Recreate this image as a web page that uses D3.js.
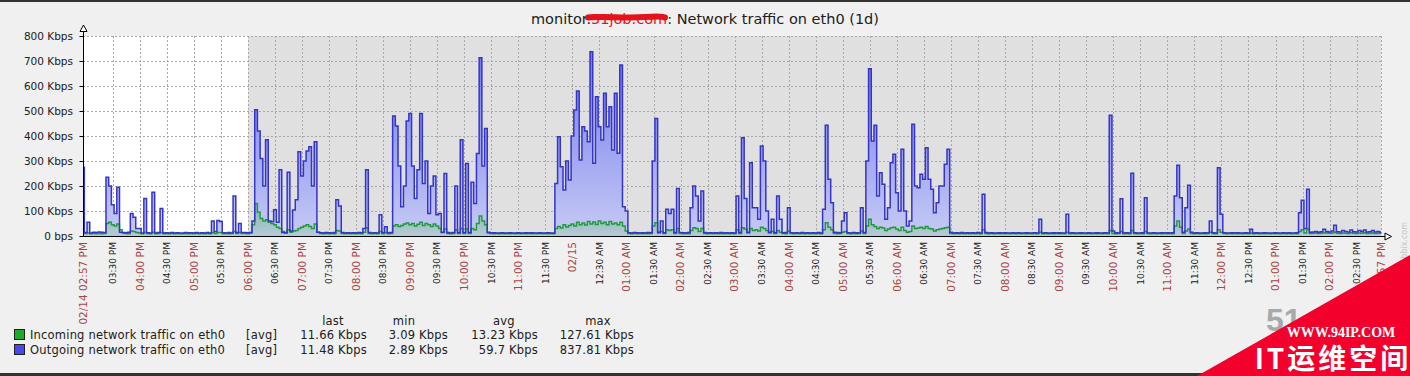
<!DOCTYPE html>
<html>
<head>
<meta charset="utf-8">
<script src="https://cdn.jsdelivr.net/npm/d3@7"></script>
<style>
  html, body { margin: 0; padding: 0; background: #f0f0f0; }
  svg { display: block; font-family: "DejaVu Sans", sans-serif; }
</style>
</head>
<body>
<div id="chart"></div>
<script>
// one sample every 3 minutes, 02/14 02:57 PM -> 02/15 02:57 PM (one row = one hour)
const outgoing = [
  275,14,55,12,15,14,16,15,14,235,200,125,90,195,15,14,13,15,90,75,
  30,30,12,150,13,12,175,12,14,110,12,13,12,14,12,13,12,12,14,13,
  13,12,14,12,13,12,14,12,60,18,62,58,13,12,14,12,160,14,50,14,
  14,13,14,60,505,420,310,200,385,60,58,105,55,265,14,12,255,20,104,145,
  337,240,300,340,357,200,377,15,13,12,14,13,12,14,145,120,14,12,13,12,
  13,12,14,13,30,265,14,12,13,12,85,14,37,13,14,480,440,280,117,200,
  460,490,280,150,265,490,210,300,90,200,240,85,90,14,250,14,12,14,200,13,
  385,14,290,14,215,130,330,713,280,430,15,12,13,12,12,13,12,12,13,12,
  12,13,12,12,13,12,13,12,12,13,12,12,13,12,12,210,397,277,184,300,
  224,400,504,580,304,437,420,377,737,291,557,437,384,571,437,517,344,571,331,684,
  117,100,13,12,14,13,12,13,12,14,13,300,470,15,60,13,107,90,107,14,
  190,14,13,12,14,113,200,160,60,180,14,12,13,12,13,12,14,12,13,12,
  13,12,160,14,393,150,15,293,113,113,67,360,300,100,15,67,13,160,67,13,
  14,113,13,12,13,12,14,12,13,12,13,12,14,12,107,443,227,133,15,14,
  13,60,93,13,12,14,13,12,113,14,300,669,380,443,160,253,207,67,113,293,
  327,173,100,347,100,40,60,447,200,193,247,227,353,227,187,93,133,200,200,287,
  347,15,12,13,12,14,12,13,12,13,12,14,12,167,14,12,13,12,12,13,
  12,13,12,12,13,12,13,12,12,13,12,12,13,12,67,12,13,12,12,13,
  12,13,12,12,87,12,13,12,12,13,12,12,13,12,12,13,12,12,13,12,
  483,20,13,12,149,12,13,12,251,13,12,12,13,153,12,12,13,12,12,13,
  12,13,12,13,160,283,153,15,113,203,15,12,13,12,12,13,12,60,13,12,
  273,87,13,12,12,13,12,13,12,12,13,12,27,12,13,12,12,13,12,12,
  12,13,12,12,13,12,13,12,12,13,93,143,30,187,15,16,18,15,17,27,
  18,16,20,43,17,16,22,18,16,24,17,16,22,18,24,16,17,22,16,18,15
];

const incoming = [
  12,10,12,9,10,9,10,9,10,50,55,45,40,48,25,12,10,9,20,18,
  14,12,9,15,10,9,15,9,10,14,9,10,9,10,9,10,9,9,10,9,
  10,9,10,9,10,9,10,9,14,10,14,14,9,10,9,10,18,10,14,10,
  10,9,12,45,130,95,70,60,65,55,50,45,35,30,18,14,25,15,20,22,
  30,35,40,45,38,30,48,15,10,9,10,9,10,9,22,20,10,9,10,9,
  10,9,10,9,15,33,10,9,10,9,18,9,14,9,10,40,45,38,42,48,
  52,45,50,40,47,55,42,50,45,38,48,40,30,15,28,10,9,10,25,10,
  30,10,28,10,30,25,50,80,60,45,12,10,9,10,9,10,9,10,9,10,
  9,10,9,10,9,10,9,10,9,10,9,10,9,10,9,30,38,32,45,36,
  42,48,40,55,45,52,44,58,48,56,46,60,50,55,45,58,48,52,45,55,
  40,20,10,9,10,9,10,9,10,9,10,40,53,12,18,10,25,22,25,10,
  30,10,9,10,9,22,33,30,18,30,10,9,10,9,10,9,10,9,10,9,
  10,9,25,10,33,28,12,30,22,25,20,35,30,22,12,18,10,22,15,10,
  9,20,10,9,10,9,10,9,10,9,10,9,10,9,25,53,35,25,10,9,
  10,15,18,10,9,10,9,10,20,10,40,67,45,38,30,35,32,22,28,33,
  35,28,22,35,22,15,18,40,30,32,35,30,38,30,28,20,25,28,30,33,
  35,10,9,10,9,10,9,10,9,10,9,10,9,25,10,9,10,9,10,9,
  10,9,10,9,10,9,10,9,10,9,10,9,10,9,15,9,10,9,10,9,
  10,9,10,9,15,9,10,9,10,9,10,9,10,9,10,9,10,9,10,9,
  22,10,9,10,18,9,10,9,22,10,9,10,9,18,10,9,10,9,10,9,
  10,9,10,9,40,60,35,10,20,28,10,9,10,9,10,9,10,15,10,9,
  25,15,10,9,10,9,10,9,10,9,10,9,12,9,10,9,10,9,10,9,
  10,9,10,9,10,9,10,9,10,9,18,25,12,28,10,11,12,10,11,13,
  12,11,12,15,11,10,12,11,10,13,11,10,12,11,13,10,11,12,10,11,12
];

const yTicks = [0, 100, 200, 300, 400, 500, 600, 700, 800];
const yLabels = ["0 bps", "100 Kbps", "200 Kbps", "300 Kbps", "400 Kbps",
  "500 Kbps", "600 Kbps", "700 Kbps", "800 Kbps"];

const timeLabels = [
  "03:30 PM", "04:00 PM", "04:30 PM", "05:00 PM", "05:30 PM", "06:00 PM",
  "06:30 PM", "07:00 PM", "07:30 PM", "08:00 PM", "08:30 PM", "09:00 PM",
  "09:30 PM", "10:00 PM", "10:30 PM", "11:00 PM", "11:30 PM", "02/15",
  "12:30 AM", "01:00 AM", "01:30 AM", "02:00 AM", "02:30 AM", "03:00 AM",
  "03:30 AM", "04:00 AM", "04:30 AM", "05:00 AM", "05:30 AM", "06:00 AM",
  "06:30 AM", "07:00 AM", "07:30 AM", "08:00 AM", "08:30 AM", "09:00 AM",
  "09:30 AM", "10:00 AM", "10:30 AM", "11:00 AM", "11:30 AM", "12:00 PM",
  "12:30 PM", "01:00 PM", "01:30 PM", "02:00 PM", "02:30 PM"
];
const startLabel = "02/14 02:57 PM";
const endLabel = "02/15 02:57 PM";

const legendNames = ["Incoming network traffic on eth0", "Outgoing network traffic on eth0"];
const legendColors = ["#1faa2a", "#4848ec"];
const legendLast = ["11.66 Kbps", "11.48 Kbps"];
const legendMin = ["3.09 Kbps", "2.89 Kbps"];
const legendAvg = ["13.23 Kbps", "59.7 Kbps"];
const legendMax = ["127.61 Kbps", "837.81 Kbps"];

const start = new Date(2014, 1, 14, 14, 57);
const end = new Date(2014, 1, 15, 14, 57);
const workEnd = new Date(2014, 1, 14, 18, 0);
const stepMinutes = 3;

const width = 1410;
const height = 376;
const margin = { top: 36, right: 29, bottom: 140, left: 83 };
const innerWidth = width - margin.left - margin.right;
const innerHeight = height - margin.top - margin.bottom;

const svg = d3.select("#chart")
  .append("svg")
  .attr("width", width)
  .attr("height", height);

svg.append("rect").attr("width", width).attr("height", height).attr("fill", "#f0f0f0");
svg.append("rect").attr("width", width).attr("height", 2).attr("fill", "#333");
svg.append("rect").attr("y", height - 3).attr("width", width).attr("height", 3).attr("fill", "#333");

const x = d3.scaleTime()
  .domain([start, end])
  .range([margin.left, margin.left + innerWidth]);

const y = d3.scaleLinear()
  .domain([0, 800])
  .range([margin.top + innerHeight, margin.top]);

const sampleTime = (i) => d3.timeMinute.offset(start, i * stepMinutes);

// plot background: work period white, the rest grey
svg.append("rect")
  .attr("x", x(start)).attr("y", y(800))
  .attr("width", x(workEnd) - x(start)).attr("height", y(0) - y(800))
  .attr("fill", "#ffffff");
svg.append("rect")
  .attr("x", x(workEnd)).attr("y", y(800))
  .attr("width", x(end) - x(workEnd)).attr("height", y(0) - y(800))
  .attr("fill", "#e0e0e0");

// grid
const tickTimes = d3.timeMinute.every(30).range(new Date(2014, 1, 14, 15, 15), end);

const grid = svg.append("g")
  .attr("stroke", "#a8a8a8")
  .attr("stroke-width", 1)
  .attr("stroke-dasharray", "2,2");

grid.selectAll(".hgrid")
  .data(yTicks.slice(1))
  .join("line")
  .attr("x1", x(start)).attr("x2", x(end))
  .attr("y1", (d) => Math.round(y(d)) + 0.5)
  .attr("y2", (d) => Math.round(y(d)) + 0.5);

grid.selectAll(".vgrid")
  .data(tickTimes.concat([end]))
  .join("line")
  .attr("x1", (d) => Math.round(x(d)) + 0.5)
  .attr("x2", (d) => Math.round(x(d)) + 0.5)
  .attr("y1", y(800)).attr("y2", y(0));

// gradients (zabbix "gradient line" style)
const defs = svg.append("defs");
const gBlue = defs.append("linearGradient")
  .attr("id", "fillOut")
  .attr("gradientUnits", "userSpaceOnUse")
  .attr("x1", 0).attr("x2", 0)
  .attr("y1", y(800)).attr("y2", y(0));
gBlue.append("stop").attr("offset", "0%").attr("stop-color", "#6a72ee");
gBlue.append("stop").attr("offset", "100%").attr("stop-color", "#c6caf4");

const gGreen = defs.append("linearGradient")
  .attr("id", "fillIn")
  .attr("gradientUnits", "userSpaceOnUse")
  .attr("x1", 0).attr("x2", 0)
  .attr("y1", y(150)).attr("y2", y(0));
gGreen.append("stop").attr("offset", "0%").attr("stop-color", "#4aae68").attr("stop-opacity", 0.6);
gGreen.append("stop").attr("offset", "100%").attr("stop-color", "#9cc8a8").attr("stop-opacity", 0.4);

const area = d3.area()
  .x((d, i) => x(sampleTime(i)))
  .y0(y(0))
  .y1((d) => y(d))
  .curve(d3.curveStep);

const line = d3.line()
  .x((d, i) => x(sampleTime(i)))
  .y((d) => y(d))
  .curve(d3.curveStep);

svg.append("path").datum(outgoing).attr("fill", "url(#fillOut)").attr("d", area);
svg.append("path").datum(incoming).attr("fill", "url(#fillIn)").attr("d", area);
svg.append("path").datum(incoming)
  .attr("fill", "none").attr("stroke", "#1f9a3a").attr("stroke-width", 1.4)
  .attr("d", line);
svg.append("path").datum(outgoing)
  .attr("fill", "none").attr("stroke", "#3434c8").attr("stroke-width", 1.5)
  .attr("d", line);

// axes with arrows
const axisX0 = Math.round(x(start)) + 0.5;
const axisY0 = Math.round(y(0)) + 0.5;
svg.append("line")
  .attr("x1", axisX0).attr("x2", axisX0)
  .attr("y1", axisY0).attr("y2", 31)
  .attr("stroke", "#000");
svg.append("line")
  .attr("x1", axisX0).attr("x2", x(end) + 4)
  .attr("y1", axisY0).attr("y2", axisY0)
  .attr("stroke", "#000");
svg.append("path")
  .attr("d", `M${axisX0 - 3.5},31.5 L${axisX0},25 L${axisX0 + 3.5},31.5 Z`)
  .attr("fill", "#fff").attr("stroke", "#000");
const ax = x(end) + 4;
svg.append("path")
  .attr("d", `M${ax},${axisY0 - 3.5} L${ax + 6.5},${axisY0} L${ax},${axisY0 + 3.5} Z`)
  .attr("fill", "#fff").attr("stroke", "#000");

svg.selectAll(".ytick")
  .data(yTicks)
  .join("line")
  .attr("x1", axisX0 - 4).attr("x2", axisX0)
  .attr("y1", (d) => Math.round(y(d)) + 0.5)
  .attr("y2", (d) => Math.round(y(d)) + 0.5)
  .attr("stroke", "#000");

svg.selectAll(".ylabel")
  .data(yTicks)
  .join("text")
  .attr("x", 73)
  .attr("y", (d) => y(d))
  .attr("dy", "0.36em")
  .attr("text-anchor", "end")
  .style("font-size", "10.5px")
  .attr("fill", "#202020")
  .text((d, i) => yLabels[i]);

// time labels
const labelData = tickTimes.map((t, i) => ({ t: t, label: timeLabels[i] }));
labelData.unshift({ t: start, label: startLabel });
labelData.push({ t: end, label: endLabel });

svg.selectAll(".xlabel")
  .data(labelData)
  .join("text")
  .attr("transform", (d) => "translate(" + x(d.t) + ",242) rotate(-90)")
  .attr("dy", "0.36em")
  .attr("text-anchor", "end")
  .each(function (d) {
    const major = d.t.getMinutes() !== 30;
    d3.select(this)
      .style("font-size", major ? "10.5px" : "9px")
      .attr("fill", major ? "#aa4444" : "#202020");
  })
  .text((d) => d.label);

// title, host name scribbled over in red
const title = svg.append("text")
  .attr("x", 705)
  .attr("y", 24)
  .attr("text-anchor", "middle")
  .style("font-size", "14.5px")
  .attr("fill", "#202020");
title.append("tspan").text("monitor.");
title.append("tspan").attr("fill", "#e3121b").text("51job.com");
title.append("tspan").text(": Network traffic on eth0 (1d)");
svg.append("path")
  .attr("d", "M588,17.5 C605,16 625,18.5 645,17 S660,17 665,17.5")
  .attr("fill", "none")
  .attr("stroke", "#e3121b")
  .attr("stroke-width", 6)
  .attr("stroke-linecap", "round");

// legend
const legend = svg.append("g")
  .style("font-size", "11.5px")
  .style("letter-spacing", "0.2px")
  .attr("fill", "#202020");
const headers = [["last", 333], ["min", 404], ["avg", 504], ["max", 598]];
legend.selectAll(".hdr")
  .data(headers)
  .join("text")
  .attr("x", (d) => d[1])
  .attr("y", 321)
  .attr("dy", "0.36em")
  .attr("text-anchor", "middle")
  .text((d) => d[0]);

legendNames.forEach((name, i) => {
  const cy = 335 + i * 15;
  legend.append("rect")
    .attr("x", 14.5).attr("y", cy - 5.5)
    .attr("width", 10).attr("height", 10)
    .attr("fill", legendColors[i]).attr("stroke", "#202020");
  legend.append("text").attr("x", 30).attr("y", cy).attr("dy", "0.36em").text(name);
  legend.append("text").attr("x", 246).attr("y", cy).attr("dy", "0.36em").text("[avg]");
  const cols = [[legendLast[i], 367], [legendMin[i], 448], [legendAvg[i], 538], [legendMax[i], 634]];
  cols.forEach((c) => {
    legend.append("text")
      .attr("x", c[1]).attr("y", cy).attr("dy", "0.36em")
      .attr("text-anchor", "end")
      .text(c[0]);
  });
});

// watermarks
svg.append("text")
  .attr("transform", "translate(1407,222) rotate(-90)")
  .attr("text-anchor", "end")
  .style("font-size", "8px")
  .attr("fill", "#c4c4c4")
  .text("zabbix.com");
svg.append("text")
  .attr("x", 1266).attr("y", 331)
  .style("font-family", "Liberation Sans, sans-serif")
  .style("font-size", "32px").style("font-weight", "bold")
  .attr("fill", "#a9a9a9")
  .text("51");
svg.append("path")
  .attr("d", "M1197,376 L1410,255 L1410,376 Z")
  .attr("fill", "#f4002c");
svg.append("text")
  .attr("x", 1341).attr("y", 337)
  .attr("text-anchor", "middle")
  .style("font-family", "Liberation Serif, serif")
  .style("font-size", "14px").style("font-weight", "bold")
  .attr("fill", "#ffffff")
  .text("WWW.94IP.COM");
svg.append("text")
  .attr("x", 1333).attr("y", 369)
  .attr("text-anchor", "middle")
  .style("font-family", "Noto Sans CJK SC, sans-serif")
  .style("font-size", "28px").style("font-weight", "bold")
  .style("letter-spacing", "3px")
  .attr("fill", "#ffffff")
  .text("IT运维空间");
</script>
</body>
</html>
